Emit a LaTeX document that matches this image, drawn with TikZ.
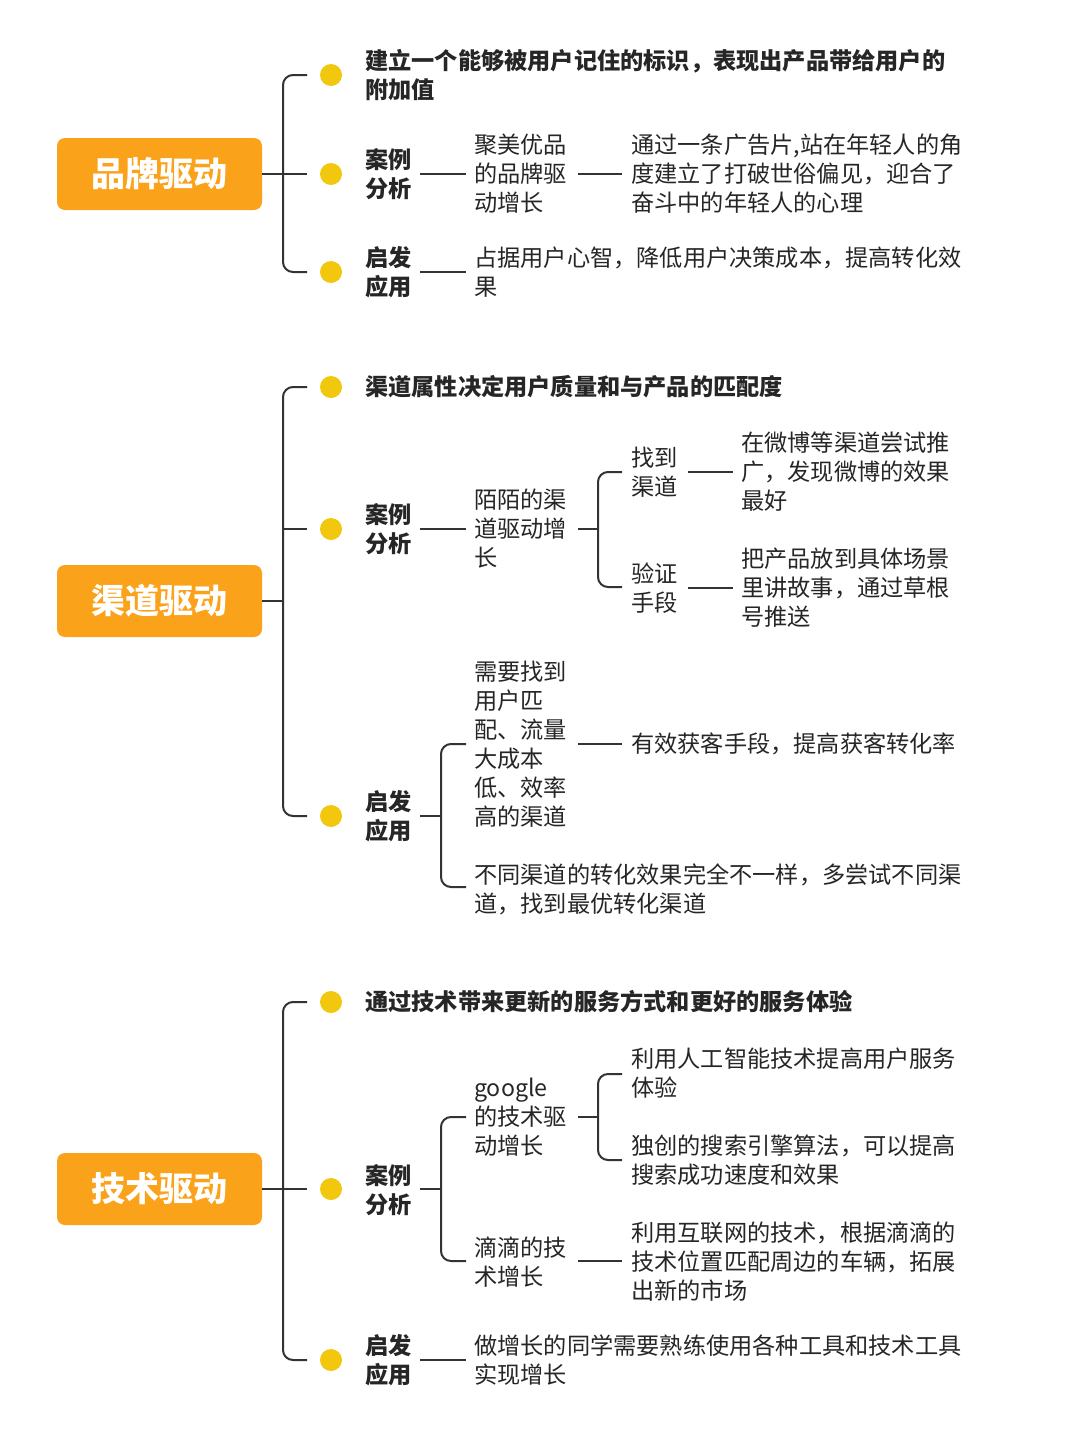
\documentclass[tikz,border=0pt]{standalone}
\usepackage{fontspec}
\setmainfont{Noto Sans CJK SC}
\definecolor{org}{HTML}{FAA21A}
\definecolor{gld}{HTML}{F2C80F}
\begin{document}
\begin{tikzpicture}[x=1pt,y=-1pt,
  ln/.style={draw=black!80,line width=2pt},
  br/.style={ln,rounded corners=10pt},
  dot/.style={circle,fill=gld,minimum size=22pt,inner sep=0},
  box/.style={fill=org,rounded corners=8pt,minimum width=205pt,minimum height=72pt,text=white,font=\fontsize{34}{40}\selectfont\bfseries},
  t/.style={anchor=west,inner sep=0,align=left,text=black!85,font=\fontsize{23.2}{29}\selectfont},
  tb/.style={t,font=\fontsize{23.2}{29}\selectfont\bfseries}]
\useasboundingbox[fill=white] (0,0) rectangle (1080,1443);
% ---------- group 1
\node[box] (b1) at (159.5,174) {品牌驱动};
\draw[ln] (b1.east) -- (283,174);
\draw[br] (307,75) -- (283,75) -- (283,272) -- (307,272);
\draw[ln] (283,174) -- (307,174);
\foreach \y/\n in {75/d11,174/d12,272/d13} \node[dot] (\n) at (331,\y) {};
\node[tb] (a1) at (365,75) {建立一个能够被用户记住的标识，表现出产品带给用户的\\附加值};
\node[tb] (a2) at (365,174) {案例\\分析};
\draw[ln] (420,174) -- (466,174);
\node[t] (a3) at (474,174) {聚美优品\\的品牌驱\\动增长};
\draw[ln] (578,174) -- (622,174);
\node[t] (a4) at (631,174) {通过一条广告片,站在年轻人的角\\度建立了打破世俗偏见，迎合了\\奋斗中的年轻人的心理};
\node[tb] (a5) at (365,272) {启发\\应用};
\draw[ln] (420,272) -- (466,272);
\node[t] (a6) at (474,272) {占据用户心智，降低用户决策成本，提高转化效\\果};
% ---------- group 2
\node[box] (b2) at (159.5,601) {渠道驱动};
\draw[ln] (b2.east) -- (283,601);
\draw[br] (307,387) -- (283,387) -- (283,816) -- (307,816);
\draw[ln] (283,529) -- (307,529);
\foreach \y/\n in {387/d21,529/d22,816/d23} \node[dot] (\n) at (331,\y) {};
\node[tb] (c1) at (365,387) {渠道属性决定用户质量和与产品的匹配度};
\node[tb] (c2) at (365,529) {案例\\分析};
\draw[ln] (420,529) -- (466,529);
\node[t] (c3) at (474,529) {陌陌的渠\\道驱动增\\长};
\draw[ln] (578,529) -- (598,529);
\draw[br] (622,472) -- (598,472) -- (598,587) -- (622,587);
\node[t] (c4) at (631,472) {找到\\渠道};
\draw[ln] (688,472) -- (733,472);
\node[t] (c5) at (741,472) {在微博等渠道尝试推\\广，发现微博的效果\\最好};
\node[t] (c6) at (631,588) {验证\\手段};
\draw[ln] (688,588) -- (733,588);
\node[t] (c7) at (741,588) {把产品放到具体场景\\里讲故事，通过草根\\号推送};
\node[tb] (c8) at (365,816) {启发\\应用};
\draw[ln] (420,816) -- (441,816);
\draw[br] (466,744) -- (441,744) -- (441,887) -- (466,887);
\node[t] (c9) at (474,744) {需要找到\\用户匹\\配、流量\\大成本\\低、效率\\高的渠道};
\draw[ln] (578,744) -- (622,744);
\node[t] (c10) at (631,744) {有效获客手段，提高获客转化率};
\node[t] (c11) at (474,889) {不同渠道的转化效果完全不一样，多尝试不同渠\\道，找到最优转化渠道};
% ---------- group 3
\node[box] (b3) at (159.5,1189) {技术驱动};
\draw[ln] (b3.east) -- (283,1189);
\draw[br] (307,1002) -- (283,1002) -- (283,1360) -- (307,1360);
\draw[ln] (283,1189) -- (307,1189);
\foreach \y/\n in {1002/d31,1189/d32,1360/d33} \node[dot] (\n) at (331,\y) {};
\node[tb] (e1) at (365,1002) {通过技术带来更新的服务方式和更好的服务体验};
\node[tb] (e2) at (365,1190) {案例\\分析};
\draw[ln] (420,1189) -- (441,1189);
\draw[br] (466,1117) -- (441,1117) -- (441,1261) -- (466,1261);
\node[t] (e3) at (474,1117) {google\\的技术驱\\动增长};
\draw[ln] (578,1117) -- (598,1117);
\draw[br] (622,1074) -- (598,1074) -- (598,1160) -- (622,1160);
\node[t] (e4) at (631,1073) {利用人工智能技术提高用户服务\\体验};
\node[t] (e5) at (631,1160) {独创的搜索引擎算法，可以提高\\搜索成功速度和效果};
\node[t] (e6) at (474,1262) {滴滴的技\\术增长};
\draw[ln] (578,1261) -- (622,1261);
\node[t] (e7) at (631,1262) {利用互联网的技术，根据滴滴的\\技术位置匹配周边的车辆，拓展\\出新的市场};
\node[tb] (e8) at (365,1360) {启发\\应用};
\draw[ln] (420,1360) -- (466,1360);
\node[t] (e9) at (474,1360) {做增长的同学需要熟练使用各种工具和技术工具\\实现增长};
\end{tikzpicture}
\end{document}
